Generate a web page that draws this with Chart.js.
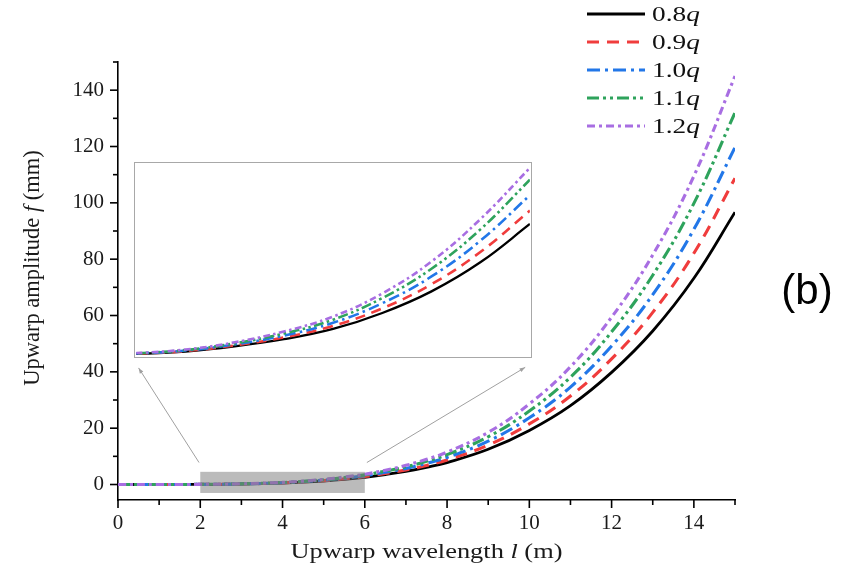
<!DOCTYPE html>
<html><head><meta charset="utf-8">
<script src="https://cdn.jsdelivr.net/npm/chart.js@4.4.1/dist/chart.umd.min.js"></script>
<style>
html,body{margin:0;padding:0;background:#fff;}
#wrap{position:relative;width:850px;height:575px;}
#inset{position:absolute;border:1.5px solid #a8a8a8;background:#fff;box-sizing:border-box;overflow:hidden;}
</style></head><body>
<div id="wrap"><canvas id="main"></canvas><div id="inset"><canvas id="ins"></canvas></div></div>
<script>
// ---- data ----
const wavelength = [0, 1, 1.5, 2, 2.5, 3, 3.5, 4, 4.5, 5, 5.5, 6, 6.5, 7, 7.5, 8, 9, 10, 11, 12, 13, 14, 15];
const seriesNames = ['0.8', '0.9', '1.0', '1.1', '1.2'];
const amp08 = [0, 0.002, 0.010, 0.035, 0.08, 0.18, 0.32, 0.52, 0.83, 1.25, 1.82, 2.56, 3.52, 4.65, 6.10, 7.80, 12.5, 19.2, 28.0, 39.8, 54.5, 73.2, 96.7];
const amp09 = [0, 0.002, 0.011, 0.039, 0.09, 0.20, 0.355, 0.58, 0.92, 1.39, 2.02, 2.82, 3.90, 5.17, 6.78, 8.70, 14.0, 21.5, 31.4, 44.6, 61.1, 82.1, 108.7];
const amp10 = [0, 0.002, 0.012, 0.043, 0.10, 0.22, 0.39, 0.64, 1.02, 1.54, 2.24, 3.12, 4.33, 5.72, 7.50, 9.60, 15.4, 23.7, 34.6, 49.2, 67.4, 90.6, 119.7];
const amp11 = [0, 0.003, 0.013, 0.047, 0.11, 0.24, 0.43, 0.70, 1.12, 1.69, 2.46, 3.42, 4.75, 6.28, 8.25, 10.6, 16.95, 26.1, 38.1, 54.2, 74.3, 99.8, 132.0];
const amp12 = [0, 0.003, 0.015, 0.051, 0.12, 0.26, 0.47, 0.76, 1.21, 1.83, 2.66, 3.65, 5.10, 6.80, 8.95, 11.5, 18.5, 28.6, 41.8, 59.4, 81.5, 109.5, 145.0];
const xTickLabels = [0, 2, 4, 6, 8, 10, 12, 14];
const xMinorTicks = [1, 3, 5, 7, 9, 11, 13, 15];
const yTickLabels = [0, 20, 40, 60, 80, 100, 120, 140];
const yMinorTicks = [10, 30, 50, 70, 90, 110, 130, 150];
const zoomRangeX = [2, 6];
const zoomRangeY = [-3, 4.5];
const insetRangeY = [0, 3.72];

// ---- styles ----
const allSeries = [amp08, amp09, amp10, amp11, amp12];
const colors = ['#000000', '#f03c3c', '#2277e8', '#2ea35c', '#a86ee2'];
const dashes = [[], [12, 8], [13, 5, 3, 5], [12, 4, 3, 4, 3, 4], [8, 4, 3, 4]];
const SERIF = "'Liberation Serif', 'Times New Roman', serif";
const TEXT_STRETCH = 1.2;

function makeDatasets(width, dashScale) {
  return allSeries.map((vals, i) => ({
    label: seriesNames[i] + 'q',
    data: wavelength.map((l, j) => ({ x: l, y: vals[j] })),
    borderColor: colors[i],
    backgroundColor: colors[i],
    borderWidth: i === 0 ? width : width + 0.3,
    borderDash: dashes[i].map(d => d * dashScale),
    pointRadius: 0,
    fill: false,
    tension: 0.4
  })).reverse();
}

// draws mixed upright/italic text centred at (x, y), stretched horizontally
function drawRich(ctx, parts, x, y, size, stretch) {
  ctx.save();
  ctx.translate(x, y); ctx.scale(stretch, 1);
  let total = 0;
  const widths = parts.map(([t, it]) => {
    ctx.font = (it ? 'italic ' : '') + size + 'px ' + SERIF;
    const w = ctx.measureText(t).width; total += w; return w;
  });
  let cx = -total / 2;
  ctx.textAlign = 'left';
  parts.forEach(([t, it], i) => {
    ctx.font = (it ? 'italic ' : '') + size + 'px ' + SERIF;
    ctx.fillText(t, cx, 0); cx += widths[i];
  });
  ctx.restore();
}

const decor = {
  id: 'decor',
  afterDatasetsDraw(chart) {
    const { ctx, scales: { x, y } } = chart;
    ctx.save();
    ctx.fillStyle = 'rgba(120,120,120,0.5)';
    const rx0 = x.getPixelForValue(zoomRangeX[0]), rx1 = x.getPixelForValue(zoomRangeX[1]);
    const ry0 = y.getPixelForValue(zoomRangeY[1]), ry1 = y.getPixelForValue(zoomRangeY[0]);
    ctx.fillRect(rx0, ry0, rx1 - rx0, ry1 - ry0);
    const arrows = [[[1.97, 7.8], [0.5, 41.4]], [[6.05, 7.8], [9.9, 41.6]]];
    ctx.strokeStyle = '#a0a0a0'; ctx.fillStyle = '#a0a0a0'; ctx.lineWidth = 1;
    arrows.forEach(([a, b]) => {
      const x0 = x.getPixelForValue(a[0]), y0 = y.getPixelForValue(a[1]);
      const x1 = x.getPixelForValue(b[0]), y1 = y.getPixelForValue(b[1]);
      ctx.beginPath(); ctx.moveTo(x0, y0); ctx.lineTo(x1, y1); ctx.stroke();
      const ang = Math.atan2(y1 - y0, x1 - x0), h = 6;
      ctx.beginPath(); ctx.moveTo(x1, y1);
      ctx.lineTo(x1 - h * Math.cos(ang - 0.35), y1 - h * Math.sin(ang - 0.35));
      ctx.lineTo(x1 - h * Math.cos(ang + 0.35), y1 - h * Math.sin(ang + 0.35));
      ctx.closePath(); ctx.fill();
    });
    ctx.restore();
  },
  afterDraw(chart) {
    const { ctx, scales: { x, y }, chartArea: a } = chart;
    ctx.save();
    ctx.strokeStyle = '#000'; ctx.lineWidth = 1.6;
    const tick = (x0, y0, x1, y1) => { ctx.beginPath(); ctx.moveTo(x0, y0); ctx.lineTo(x1, y1); ctx.stroke(); };
    yTickLabels.forEach(v => { const p = y.getPixelForValue(v); tick(a.left - 8, p, a.left, p); });
    yMinorTicks.forEach(v => { const p = y.getPixelForValue(v); tick(a.left - 5, p, a.left, p); });
    xTickLabels.forEach(v => { const p = x.getPixelForValue(v); tick(p, a.bottom, p, a.bottom + 8); });
    xMinorTicks.forEach(v => { const p = x.getPixelForValue(v); tick(p, a.bottom, p, a.bottom + 5); });
    // axis titles
    ctx.fillStyle = '#1a1a1a'; ctx.textBaseline = 'middle';
    drawRich(ctx, [['Upwarp wavelength ', false], ['l', true], [' (m)', false]], (a.left + a.right) / 2, 552, 22, TEXT_STRETCH);
    ctx.save(); ctx.translate(33, 268); ctx.rotate(-Math.PI / 2);
    drawRich(ctx, [['Upwarp amplitude ', false], ['f', true], [' (mm)', false]], 0, 0, 22.5, 1);
    ctx.restore();
    // legend
    const lx0 = 587, lx1 = 645, ly0 = 14, lstep = 28;
    seriesNames.forEach((name, i) => {
      const yy = ly0 + i * lstep;
      ctx.strokeStyle = colors[i]; ctx.lineWidth = i === 0 ? 2.8 : 3; ctx.setLineDash(dashes[i]);
      ctx.beginPath(); ctx.moveTo(lx0, yy); ctx.lineTo(lx1, yy); ctx.stroke();
      ctx.setLineDash([]);
      ctx.fillStyle = '#111';
      ctx.save(); ctx.translate(652, yy + 1); ctx.scale(TEXT_STRETCH + 0.1, 1);
      ctx.textAlign = 'left';
      ctx.font = '21px ' + SERIF; ctx.fillText(name, 0, 0);
      const w = ctx.measureText(name).width;
      ctx.font = 'italic 21px ' + SERIF; ctx.fillText('q', w, 0);
      ctx.restore();
    });
    // panel label
    ctx.fillStyle = '#000'; ctx.textAlign = 'center';
    ctx.font = "42px 'Liberation Sans', Arial, sans-serif";
    ctx.fillText('(b)', 807, 292);
    ctx.restore();
  }
};

const mainChart = new Chart(document.getElementById('main'), {
  type: 'line',
  data: { datasets: makeDatasets(2.8, 1) },
  options: {
    responsive: true, maintainAspectRatio: false, animation: false,
    layout: { padding: { left: 0, right: 115, top: 62, bottom: 0 } },
    plugins: { legend: { display: false }, tooltip: { enabled: false } },
    scales: {
      x: {
        type: 'linear', min: 0, max: 15,
        grid: { display: false, drawTicks: false },
        border: { display: true, color: '#000', width: 1.6 },
        afterBuildTicks: s => { s.ticks = xTickLabels.map(v => ({ value: v })); },
        afterFit: s => { s.height = 75; },
        ticks: { color: '#1a1a1a', padding: 11, maxRotation: 0, font: { family: SERIF, size: 21 } }
      },
      y: {
        type: 'linear', min: -5.5, max: 150,
        grid: { display: false, drawTicks: false },
        border: { display: true, color: '#000', width: 1.6 },
        afterBuildTicks: s => { s.ticks = yTickLabels.map(v => ({ value: v })); },
        afterFit: s => { s.width = 118; },
        ticks: { color: '#1a1a1a', padding: 14, font: { family: SERIF, size: 21 } }
      }
    }
  },
  plugins: [decor]
});

// ---- inset (zoom of the region 2..6 m) ----
const insetBox = { x0: 0.39, x1: 10.07, y0: 44.9, y1: 114.5 };
const xs = mainChart.scales.x, ys = mainChart.scales.y;
const box = document.getElementById('inset');
const bl = xs.getPixelForValue(insetBox.x0), br = xs.getPixelForValue(insetBox.x1);
const bt = ys.getPixelForValue(insetBox.y1), bb = ys.getPixelForValue(insetBox.y0);
box.style.left = bl + 'px'; box.style.top = bt + 'px';
box.style.width = (br - bl) + 'px'; box.style.height = (bb - bt) + 'px';

new Chart(document.getElementById('ins'), {
  type: 'line',
  data: { datasets: makeDatasets(2.3, 0.85) },
  options: {
    responsive: true, maintainAspectRatio: false, animation: false,
    layout: { padding: 0 },
    plugins: { legend: { display: false }, tooltip: { enabled: false } },
    scales: {
      x: { type: 'linear', min: zoomRangeX[0], max: zoomRangeX[1], display: false },
      y: { type: 'linear', min: insetRangeY[0], max: insetRangeY[1], display: false }
    }
  }
});
</script>
</body></html>
